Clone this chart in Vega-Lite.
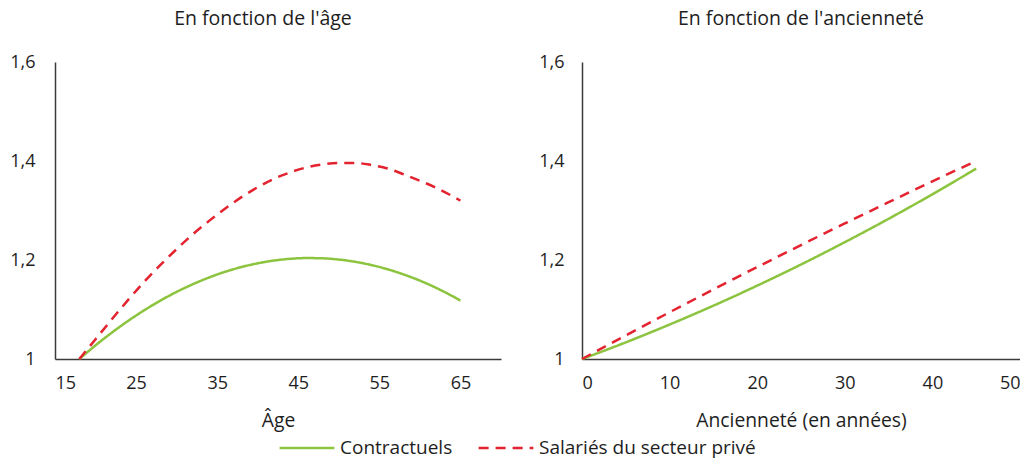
{
  "$schema": "https://vega.github.io/schema/vega-lite/v6.json",
  "padding": {"left": 9, "top": 8, "right": 0, "bottom": 0},
  "background": "white",
  "datasets": {
    "age": [
      {"age": 18, "serie": "Contractuels", "valeur": 1.0},
      {"age": 20, "serie": "Contractuels", "valeur": 1.0276},
      {"age": 22, "serie": "Contractuels", "valeur": 1.0532},
      {"age": 24, "serie": "Contractuels", "valeur": 1.0768},
      {"age": 26, "serie": "Contractuels", "valeur": 1.0984},
      {"age": 28, "serie": "Contractuels", "valeur": 1.118},
      {"age": 30, "serie": "Contractuels", "valeur": 1.1356},
      {"age": 32, "serie": "Contractuels", "valeur": 1.1511},
      {"age": 34, "serie": "Contractuels", "valeur": 1.1647},
      {"age": 36, "serie": "Contractuels", "valeur": 1.1763},
      {"age": 38, "serie": "Contractuels", "valeur": 1.1858},
      {"age": 40, "serie": "Contractuels", "valeur": 1.1933},
      {"age": 42, "serie": "Contractuels", "valeur": 1.1989},
      {"age": 44, "serie": "Contractuels", "valeur": 1.2024},
      {"age": 46, "serie": "Contractuels", "valeur": 1.2039},
      {"age": 48, "serie": "Contractuels", "valeur": 1.2034},
      {"age": 50, "serie": "Contractuels", "valeur": 1.2009},
      {"age": 52, "serie": "Contractuels", "valeur": 1.1964},
      {"age": 54, "serie": "Contractuels", "valeur": 1.1899},
      {"age": 56, "serie": "Contractuels", "valeur": 1.1813},
      {"age": 58, "serie": "Contractuels", "valeur": 1.1708},
      {"age": 60, "serie": "Contractuels", "valeur": 1.1583},
      {"age": 62, "serie": "Contractuels", "valeur": 1.1437},
      {"age": 64, "serie": "Contractuels", "valeur": 1.1271},
      {"age": 65, "serie": "Contractuels", "valeur": 1.1181},
      {"age": 18, "serie": "Salariés du secteur privé", "valeur": 1.0},
      {"age": 20, "serie": "Salariés du secteur privé", "valeur": 1.04},
      {"age": 22, "serie": "Salariés du secteur privé", "valeur": 1.08},
      {"age": 24, "serie": "Salariés du secteur privé", "valeur": 1.119},
      {"age": 26, "serie": "Salariés du secteur privé", "valeur": 1.156},
      {"age": 28, "serie": "Salariés du secteur privé", "valeur": 1.19},
      {"age": 30, "serie": "Salariés du secteur privé", "valeur": 1.222},
      {"age": 32, "serie": "Salariés du secteur privé", "valeur": 1.252},
      {"age": 34, "serie": "Salariés du secteur privé", "valeur": 1.279},
      {"age": 36, "serie": "Salariés du secteur privé", "valeur": 1.304},
      {"age": 38, "serie": "Salariés du secteur privé", "valeur": 1.327},
      {"age": 40, "serie": "Salariés du secteur privé", "valeur": 1.347},
      {"age": 42, "serie": "Salariés du secteur privé", "valeur": 1.364},
      {"age": 44, "serie": "Salariés du secteur privé", "valeur": 1.377},
      {"age": 46, "serie": "Salariés du secteur privé", "valeur": 1.387},
      {"age": 48, "serie": "Salariés du secteur privé", "valeur": 1.393},
      {"age": 50, "serie": "Salariés du secteur privé", "valeur": 1.396},
      {"age": 52, "serie": "Salariés du secteur privé", "valeur": 1.396},
      {"age": 54, "serie": "Salariés du secteur privé", "valeur": 1.392},
      {"age": 56, "serie": "Salariés du secteur privé", "valeur": 1.385},
      {"age": 58, "serie": "Salariés du secteur privé", "valeur": 1.373},
      {"age": 60, "serie": "Salariés du secteur privé", "valeur": 1.36},
      {"age": 62, "serie": "Salariés du secteur privé", "valeur": 1.346},
      {"age": 64, "serie": "Salariés du secteur privé", "valeur": 1.329},
      {"age": 65, "serie": "Salariés du secteur privé", "valeur": 1.32}
    ],
    "anc": [
      {"annees": 0, "serie": "Contractuels", "valeur": 1.0},
      {"annees": 5, "serie": "Contractuels", "valeur": 1.0336},
      {"annees": 10, "serie": "Contractuels", "valeur": 1.0696},
      {"annees": 15, "serie": "Contractuels", "valeur": 1.1077},
      {"annees": 20, "serie": "Contractuels", "valeur": 1.1482},
      {"annees": 25, "serie": "Contractuels", "valeur": 1.1909},
      {"annees": 30, "serie": "Contractuels", "valeur": 1.236},
      {"annees": 35, "serie": "Contractuels", "valeur": 1.2832},
      {"annees": 40, "serie": "Contractuels", "valeur": 1.3328},
      {"annees": 45, "serie": "Contractuels", "valeur": 1.3846},
      {"annees": 0, "serie": "Salariés du secteur privé", "valeur": 1.0},
      {"annees": 5, "serie": "Salariés du secteur privé", "valeur": 1.0476},
      {"annees": 10, "serie": "Salariés du secteur privé", "valeur": 1.0944},
      {"annees": 15, "serie": "Salariés du secteur privé", "valeur": 1.1405},
      {"annees": 20, "serie": "Salariés du secteur privé", "valeur": 1.1857},
      {"annees": 25, "serie": "Salariés du secteur privé", "valeur": 1.2302},
      {"annees": 30, "serie": "Salariés du secteur privé", "valeur": 1.2738},
      {"annees": 35, "serie": "Salariés du secteur privé", "valeur": 1.3167},
      {"annees": 40, "serie": "Salariés du secteur privé", "valeur": 1.3588},
      {"annees": 45, "serie": "Salariés du secteur privé", "valeur": 1.4001}
    ]
  },
  "hconcat": [
    {
      "width": 446,
      "height": 297,
      "title": {"text": "En fonction de l'âge", "dx": -15},
      "data": {"name": "age"},
      "mark": {"type": "line", "strokeWidth": 2.5, "interpolate": "monotone"},
      "encoding": {
        "x": {
          "field": "age", "type": "quantitative", "title": "Âge",
          "scale": {"domain": [15, 70], "nice": false, "zero": false},
          "axis": {"values": [15, 25, 35, 45, 55, 65]}
        },
        "y": {
          "field": "valeur", "type": "quantitative", "title": null,
          "scale": {"domain": [1, 1.6], "nice": false, "zero": false},
          "axis": {"values": [1, 1.2, 1.4, 1.6], "labelPadding": 20, "labelExpr": "datum.value == 1 ? '1' : replace(format(datum.value, '.1f'), '.', ',')"}
        },
        "color": {
          "field": "serie", "type": "nominal", "title": null,
          "scale": {"domain": ["Contractuels", "Salariés du secteur privé"], "range": ["#8cc43f", "#e3232f"]}
        },
        "strokeDash": {
          "field": "serie", "type": "nominal", "title": null,
          "scale": {"domain": ["Contractuels", "Salariés du secteur privé"], "range": [[1, 0], [10, 7]]}
        }
      }
    },
    {
      "width": 438,
      "height": 297,
      "title": {"text": "En fonction de l'ancienneté"},
      "data": {"name": "anc"},
      "mark": {"type": "line", "strokeWidth": 2.5, "interpolate": "monotone"},
      "encoding": {
        "x": {
          "field": "annees", "type": "quantitative", "title": "Ancienneté (en années)",
          "scale": {"domain": [0, 50], "nice": false},
          "axis": {"values": [0, 10, 20, 30, 40, 50]}
        },
        "y": {
          "field": "valeur", "type": "quantitative", "title": null,
          "scale": {"domain": [1, 1.6], "nice": false, "zero": false},
          "axis": {"values": [1, 1.2, 1.4, 1.6], "labelPadding": 18, "labelExpr": "datum.value == 1 ? '1' : replace(format(datum.value, '.1f'), '.', ',')"}
        },
        "color": {
          "field": "serie", "type": "nominal", "title": null,
          "scale": {"domain": ["Contractuels", "Salariés du secteur privé"], "range": ["#8cc43f", "#e3232f"]}
        },
        "strokeDash": {
          "field": "serie", "type": "nominal", "title": null,
          "scale": {"domain": ["Contractuels", "Salariés du secteur privé"], "range": [[1, 0], [10, 7]]}
        }
      }
    }
  ],
  "spacing": 37,
  "config": {
    "font": "Open Sans",
    "view": {"stroke": null},
    "title": {"fontSize": 19.5, "fontWeight": "normal", "color": "#1e1e1e", "offset": 24, "anchor": "middle"},
    "axis": {
      "grid": false,
      "ticks": false,
      "tickSize": 0,
      "domainColor": "#3a3a3a",
      "domainWidth": 1.5,
      "labelFontSize": 18,
      "labelColor": "#1e1e1e",
      "titleFontSize": 19.3,
      "titleFontWeight": "normal",
      "titleColor": "#1e1e1e",
      "titlePadding": 19
    },
    "axisX": {"labelPadding": 15},
    "legend": {
      "orient": "none",
      "direction": "horizontal",
      "legendX": 223,
      "legendY": 357,
      "symbolType": "stroke",
      "symbolSize": 3000,
      "symbolStrokeWidth": 2.5,
      "labelFontSize": 19,
      "labelColor": "#1e1e1e",
      "labelLimit": 400,
      "columnPadding": 20,
      "labelOffset": 4
    }
  }
}
